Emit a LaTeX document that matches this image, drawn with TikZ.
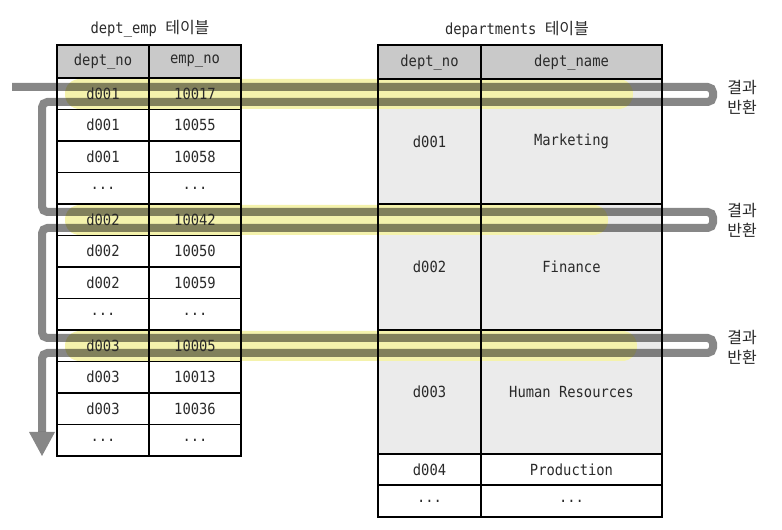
\documentclass[tikz,border=0pt]{standalone}
\usepackage{fontspec}
\setmonofont[FakeStretch=0.9]{DejaVu Sans Mono}
\newfontfamily\krfont{Noto Sans CJK KR}
\definecolor{hdr}{HTML}{C9C9C9}
\definecolor{blk}{HTML}{EBEBEB}
\definecolor{hl}{HTML}{F4F2AC}
\definecolor{txt}{HTML}{2A2A2A}
\tikzset{
  cellsty/.style={draw=black, line width=1.1pt, inner sep=0pt, text=txt,
    font=\fontsize{11.5}{13}\selectfont\ttfamily},
  titlesty/.style={inner sep=0pt, text=txt, font=\fontsize{11.5}{13}\selectfont\ttfamily},
  labelsty/.style={inner sep=0pt, text=txt, align=center,
    font=\fontsize{12}{15}\selectfont\krfont},
  flow/.style={draw=black, draw opacity=0.47, line width=6pt, rounded corners=4pt},
  tipsty/.style={fill=black, fill opacity=0.47},
  band/.style={fill=hl, rounded corners=11pt}
}
\newcommand\mydots{...}
\newcommand\mycell[6]{%
  \pgfmathsetmacro\cw{0.75*(#4-#2)}%
  \pgfmathsetmacro\ch{0.75*(#5-#3)}%
  \node[cellsty, minimum width=\cw pt, minimum height=\ch pt] (#1) at ({(#2+#4)/2},{(#3+#5)/2}) {#6};}
\begin{document}
\begin{tikzpicture}[x=0.75pt,y=-0.75pt]
\useasboundingbox (0,0) rectangle (782,530);
% fills
\fill[hdr] (57,45) rectangle (241,78);
\fill[hdr] (378,45) rectangle (662,79);
\fill[blk] (378,79) rectangle (662,454);
% highlight bands
\fill[band] (65,79) rectangle (633,109);
\fill[band] (65,205) rectangle (608,235);
\fill[band] (65,331) rectangle (637,361);
% flow path
\coordinate (start) at (12,87);
\coordinate (end) at (42,432);
\draw[flow] (start) -- (713,87) -- (713,102) -- (42,102) -- (42,212) -- (713,212) -- (713,228)
  -- (42,228) -- (42,338) -- (713,338) -- (713,353) -- (42,353) -- (end);
\fill[tipsty] (29,432) -- (55,432) -- (42,456) -- cycle;
% titles
\node[titlesty] (t1) at (150,29) {dept\_emp {\krfont\fontsize{12}{13}\selectfont 테이블}};
\node[titlesty] (t2) at (517,29) {departments {\krfont\fontsize{12}{13}\selectfont 테이블}};
% left table
\mycell{lh1}{57}{45}{149}{78}{dept\_no}
\mycell{lh2}{149}{45}{241}{78}{emp\_no}
\foreach \a/\b [count=\i from 0] in {d001/10017,d001/10055,d001/10058,\mydots/\mydots,d002/10042,d002/10050,d002/10059,\mydots/\mydots,d003/10005,d003/10013,d003/10036,\mydots/\mydots}{
  \pgfmathsetmacro\yt{78+31.5*\i}
  \pgfmathsetmacro\yb{78+31.5*(\i+1)}
  \mycell{la\i}{57}{\yt}{149}{\yb}{\a}
  \mycell{lb\i}{149}{\yt}{241}{\yb}{\b}
}
% right table
\mycell{rh1}{378}{45}{481}{79}{dept\_no}
\mycell{rh2}{481}{45}{662}{79}{dept\_name}
\mycell{ra1}{378}{79}{481}{204}{d001}
\mycell{rb1}{481}{79}{662}{204}{Marketing}
\mycell{ra2}{378}{204}{481}{330}{d002}
\mycell{rb2}{481}{204}{662}{330}{Finance}
\mycell{ra3}{378}{330}{481}{454}{d003}
\mycell{rb3}{481}{330}{662}{454}{Human Resources}
\mycell{ra4}{378}{454}{481}{485}{d004}
\mycell{rb4}{481}{454}{662}{485}{Production}
\mycell{ra5}{378}{485}{481}{517}{\mydots}
\mycell{rb5}{481}{485}{662}{517}{\mydots}
% labels
\node[labelsty] (r1) at (742,97) {결과\\반환};
\node[labelsty] (r2) at (742,220) {결과\\반환};
\node[labelsty] (r3) at (742,347) {결과\\반환};
\end{tikzpicture}
\end{document}
